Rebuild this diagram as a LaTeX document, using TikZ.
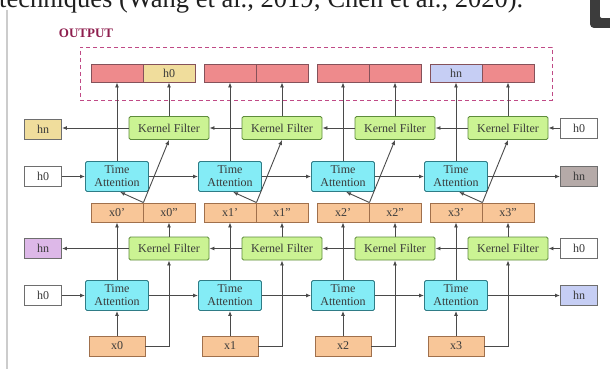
\documentclass[tikz,border=0pt]{standalone}
\usepackage{fontspec}
\setmainfont{Liberation Serif}
\usetikzlibrary{arrows.meta,calc}
\definecolor{linec}{HTML}{4A4A4A}
\definecolor{redf}{HTML}{EE8A8C}
\definecolor{redd}{HTML}{85525A}
\definecolor{yelf}{HTML}{F0DD9C}
\definecolor{bluf}{HTML}{C6CEF4}
\definecolor{taf}{HTML}{84ECF6}
\definecolor{tad}{HTML}{2F7C86}
\definecolor{kff}{HTML}{CBF393}
\definecolor{kfd}{HTML}{5E8C3C}
\definecolor{orf}{HTML}{F8C698}
\definecolor{ord}{HTML}{A0704C}
\definecolor{purf}{HTML}{DDB8E8}
\definecolor{grf}{HTML}{B5AAA8}
\definecolor{outc}{HTML}{8E1E4E}
\definecolor{dashc}{HTML}{C04A86}
\definecolor{txt}{HTML}{3A3A3A}
\definecolor{iconc}{HTML}{3C3C3C}
\begin{document}
\begin{tikzpicture}[x=1pt,y=-1pt,
  box/.style={draw, line width=0.9pt, inner sep=0pt, text=txt,
    font=\fontsize{12}{13}\selectfont},
  ta/.style={box, fill=taf, draw=tad, minimum width=63pt, minimum height=30pt,
    rounded corners=1.5pt, align=center},
  kf/.style={box, fill=kff, draw=kfd, minimum width=80pt, minimum height=23pt,
    rounded corners=1.5pt},
  ohalf/.style={box, draw=redd, minimum width=52pt, minimum height=18pt},
  xhalf/.style={box, fill=orf, draw=ord, minimum width=52pt, minimum height=19pt},
  xin/.style={box, fill=orf, draw=ord, minimum width=56pt, minimum height=20pt},
  side/.style={box, draw=linec!80, minimum width=37pt, minimum height=20pt},
  arr/.style={draw=linec, line width=0.9pt, -{Latex[length=5pt,width=4pt]}},
]
\useasboundingbox (0,0) rectangle (610,369);
% cut-off text line and icon at the top
\node[anchor=base west, inner sep=0pt, text=black!88,
  font=\fontsize{26.5}{30}\selectfont] (cap) at (-1,7.5)
  {techniques (Wang et al., 2019; Chen et al., 2020).};
\fill[iconc, rounded corners=4pt] (590,-8) rectangle (618,28);
\fill[white, rounded corners=2pt] (600,-8) rectangle (618,18);
\draw[black!20, line width=1.5pt] (7,10) -- (7,369);

% output frame
\node[font=\bfseries\fontsize{13}{14}\selectfont, text=outc] (outlbl) at (86,33) {OUTPUT};
\node[draw=dashc, line width=0.9pt, dash pattern=on 4pt off 3pt,
  minimum width=472pt, minimum height=53pt, inner sep=0pt] (outbox) at (316,73.5) {};

% output halves
\node[ohalf, fill=redf] (oL0) at (117,73) {};
\node[ohalf, fill=yelf] (oR0) at (169,73) {h0};
\node[ohalf, fill=redf] (oL1) at (230,73) {};
\node[ohalf, fill=redf] (oR1) at (282,73) {};
\node[ohalf, fill=redf] (oL2) at (343,73) {};
\node[ohalf, fill=redf] (oR2) at (395,73) {};
\node[ohalf, fill=bluf] (oL3) at (456,73) {hn};
\node[ohalf, fill=redf] (oR3) at (508,73) {};

% columns
\foreach \i in {0,1,2,3} {
  \pgfmathsetmacro\cx{117+113*\i}
  \pgfmathsetmacro\kx{\cx+52}
  \node[ta] (taU\i) at (\cx,176.5) {Time\\Attention};
  \node[ta] (taL\i) at (\cx,295.5) {Time\\Attention};
  \node[kf] (kfU\i) at (\kx,128) {Kernel Filter};
  \node[kf] (kfL\i) at (\kx,248.5) {Kernel Filter};
  \node[xin] (x\i) at (\cx,346) {x\i};
  \node[xhalf] (xa\i) at (\cx,212.5) {x\i'};
  \node[xhalf] (xb\i) at (\kx,212.5) {x\i''};
}

% side boxes
\node[side, fill=yelf] (hnY) at (43,129) {hn};
\node[side, fill=white] (h0A) at (43,176.5) {h0};
\node[side, fill=purf] (hnP) at (43,248.5) {hn};
\node[side, fill=white] (h0B) at (43,295.5) {h0};
\node[side, fill=white] (h0C) at (579,128) {h0};
\node[side, fill=grf] (hnG) at (579,176.5) {hn};
\node[side, fill=white] (h0D) at (579,248.5) {h0};
\node[side, fill=bluf] (hnB) at (579,295.5) {hn};

% vertical and diagonal connectors
\foreach \i in {0,1,2,3} {
  \draw[arr] (x\i) -- (taL\i);
  \draw[arr] (x\i.east) -| (kfL\i.south);
  \draw[arr] (taL\i) -- (xa\i);
  \draw[arr] (kfL\i) -- (xb\i);
  \draw[arr] (xa\i.north east) -- ($(taU\i.south)+(3,0)$);
  \draw[arr] (xa\i.north east) -- (kfU\i.south);
  \draw[arr] (taU\i) -- (oL\i);
  \draw[arr] (kfU\i) -- (oR\i);
}

% horizontal chains
\draw[arr] (h0A) -- (taU0);
\draw[arr] (taU0) -- (taU1);
\draw[arr] (taU1) -- (taU2);
\draw[arr] (taU2) -- (taU3);
\draw[arr] (taU3) -- (hnG);
\draw[arr] (h0B) -- (taL0);
\draw[arr] (taL0) -- (taL1);
\draw[arr] (taL1) -- (taL2);
\draw[arr] (taL2) -- (taL3);
\draw[arr] (taL3) -- (hnB);
\draw[arr] (h0C) -- (kfU3);
\draw[arr] (kfU3) -- (kfU2);
\draw[arr] (kfU2) -- (kfU1);
\draw[arr] (kfU1) -- (kfU0);
\draw[arr] (kfU0.west) -- (hnY.east |- kfU0.west);
\draw[arr] (h0D) -- (kfL3);
\draw[arr] (kfL3) -- (kfL2);
\draw[arr] (kfL2) -- (kfL1);
\draw[arr] (kfL1) -- (kfL0);
\draw[arr] (kfL0) -- (hnP);
\end{tikzpicture}
\end{document}
